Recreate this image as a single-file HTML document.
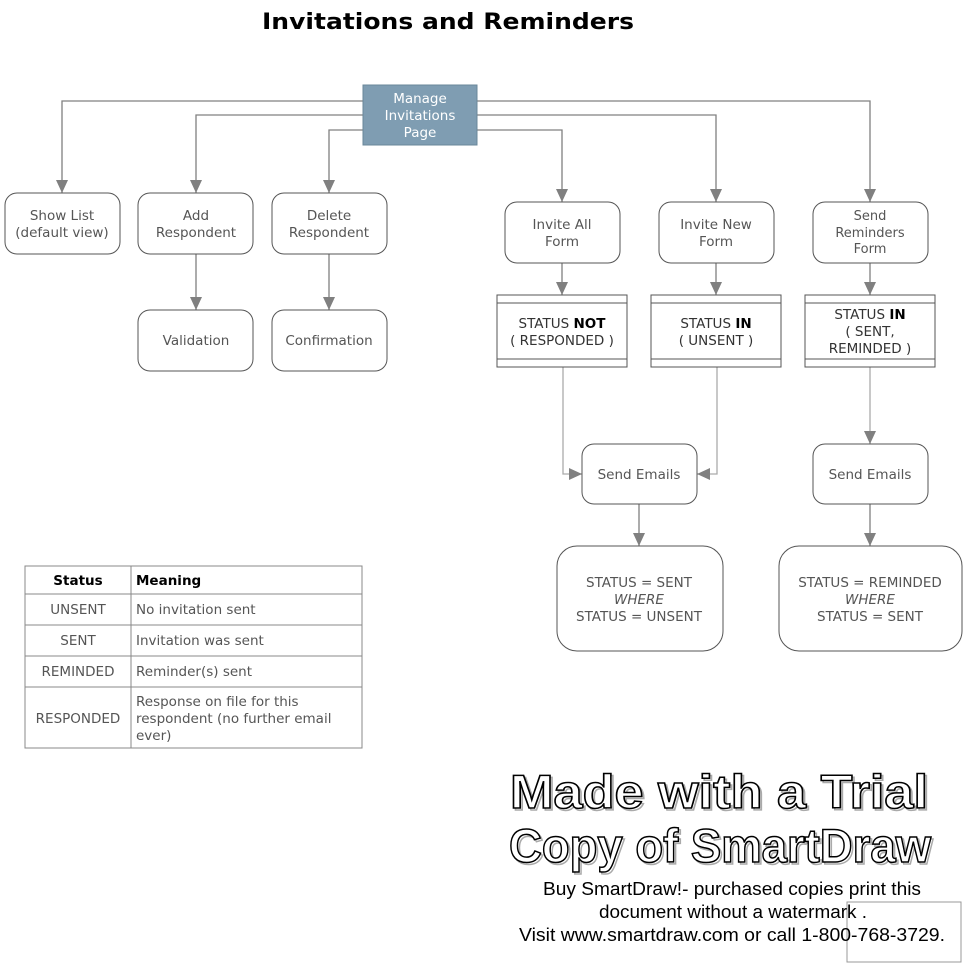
<!DOCTYPE html>
<html><head><meta charset="utf-8"><style>body{margin:0;background:#fff}svg{display:block}</style></head><body>
<svg width="967" height="967" viewBox="0 0 967 967" xmlns="http://www.w3.org/2000/svg" font-family="'DejaVu Sans', 'Liberation Sans', sans-serif">
<defs><marker id="a" markerWidth="12" markerHeight="14" refX="6" refY="13" orient="0" markerUnits="userSpaceOnUse"><path d="M0,0 L12,0 L6,13 Z" fill="#808080"/></marker>
<marker id="r" markerWidth="14" markerHeight="12" refX="13" refY="6" orient="0" markerUnits="userSpaceOnUse"><path d="M0,0 L13,6 L0,12 Z" fill="#808080"/></marker>
<marker id="l" markerWidth="14" markerHeight="12" refX="1" refY="6" orient="0" markerUnits="userSpaceOnUse"><path d="M14,0 L1,6 L14,12 Z" fill="#808080"/></marker></defs>
<text x="262" y="29" textLength="372" lengthAdjust="spacingAndGlyphs" font-size="22" font-weight="bold" font-family="'DejaVu Sans',sans-serif" fill="#000">Invitations and Reminders</text>
<g stroke="#808080" stroke-width="1.3" fill="none">
<path d="M363,101 H62 V193" marker-end="url(#a)"/>
<path d="M363,115 H196 V193" marker-end="url(#a)"/>
<path d="M363,130 H329 V193" marker-end="url(#a)"/>
<path d="M477,101 H870 V202" marker-end="url(#a)"/>
<path d="M477,115 H716 V202" marker-end="url(#a)"/>
<path d="M477,130 H562 V202" marker-end="url(#a)"/>
<path d="M196,254 V310" marker-end="url(#a)"/>
<path d="M329,254 V310" marker-end="url(#a)"/>
<path d="M562,263 V295" marker-end="url(#a)"/>
<path d="M716,263 V295" marker-end="url(#a)"/>
<path d="M870,263 V295" marker-end="url(#a)"/>
<path d="M563,367 V474 H582" stroke="#aaa" marker-end="url(#r)"/>
<path d="M717,367 V474 H697" stroke="#aaa" marker-end="url(#l)"/>
<path d="M870,367 V444" stroke="#aaa" marker-end="url(#a)"/>
<path d="M639,504 V546" marker-end="url(#a)"/>
<path d="M870,504 V546" marker-end="url(#a)"/>
</g>
<rect x="363" y="85" width="114" height="60" fill="#7f9db2" stroke="#6a8799"/>
<g fill="#fff" font-size="13.5" text-anchor="middle"><text x="420" y="103">Manage</text><text x="420" y="120">Invitations</text><text x="420" y="137">Page</text></g>
<g fill="#fff" stroke="#555" stroke-width="1">
<rect x="5" y="193" width="115" height="61" rx="12"/>
<rect x="138" y="193" width="115" height="61" rx="12"/>
<rect x="272" y="193" width="115" height="61" rx="12"/>
<rect x="138" y="310" width="115" height="61" rx="12"/>
<rect x="272" y="310" width="115" height="61" rx="12"/>
<rect x="505" y="202" width="115" height="61" rx="12"/>
<rect x="659" y="202" width="115" height="61" rx="12"/>
<rect x="813" y="202" width="115" height="61" rx="12"/>
<rect x="582" y="444" width="115" height="60" rx="12"/>
<rect x="813" y="444" width="115" height="60" rx="12"/>
<rect x="557" y="546" width="166" height="105" rx="20"/>
<rect x="779" y="546" width="183" height="105" rx="20"/>
<rect x="497" y="295" width="130" height="72"/>
<rect x="651" y="295" width="130" height="72"/>
<rect x="805" y="295" width="130" height="72"/>
</g>
<g stroke="#555" stroke-width="1"><path d="M497,303H627M497,359H627M651,303H781M651,359H781M805,303H935M805,359H935"/></g>
<g fill="#555" font-size="13.5" text-anchor="middle">
<text x="62" y="220">Show List</text><text x="62" y="237">(default view)</text>
<text x="196" y="220">Add</text><text x="196" y="237">Respondent</text>
<text x="329" y="220">Delete</text><text x="329" y="237">Respondent</text>
<text x="196" y="345">Validation</text><text x="329" y="345">Confirmation</text>
<text x="562" y="229">Invite All</text><text x="562" y="246">Form</text>
<text x="716" y="229">Invite New</text><text x="716" y="246">Form</text>
<text x="870" y="220" font-size="13">Send</text><text x="870" y="237" font-size="13">Reminders</text><text x="870" y="253" font-size="13">Form</text>
<text x="562" y="328" fill="#333">STATUS <tspan font-weight="bold" fill="#000">NOT</tspan></text><text x="562" y="345" fill="#333">( RESPONDED )</text>
<text x="716" y="328" fill="#333">STATUS <tspan font-weight="bold" fill="#000">IN</tspan></text><text x="716" y="345" fill="#333">( UNSENT )</text>
<text x="870" y="319" fill="#333">STATUS <tspan font-weight="bold" fill="#000">IN</tspan></text><text x="870" y="336" fill="#333">( SENT,</text><text x="870" y="353" fill="#333">REMINDED )</text>
<text x="639" y="479">Send Emails</text><text x="870" y="479">Send Emails</text>
<text x="639" y="587">STATUS = SENT</text><text x="639" y="604" font-style="italic">WHERE</text><text x="639" y="621">STATUS = UNSENT</text>
<text x="870" y="587">STATUS = REMINDED</text><text x="870" y="604" font-style="italic">WHERE</text><text x="870" y="621">STATUS = SENT</text>
</g>
<g fill="none" stroke="#888" stroke-width="1">
<rect x="25" y="566" width="337" height="182"/>
<path d="M131,566V748M25,594H362M25,625H362M25,656H362M25,687H362"/>
</g>
<g font-size="13.5" fill="#555">
<text x="78" y="585" text-anchor="middle" font-weight="bold" fill="#000">Status</text>
<text x="136" y="585" font-weight="bold" fill="#000">Meaning</text>
<g text-anchor="middle"><text x="78" y="614">UNSENT</text><text x="78" y="645">SENT</text><text x="78" y="676">REMINDED</text><text x="78" y="723">RESPONDED</text></g>
<text x="136" y="614">No invitation sent</text><text x="136" y="645">Invitation was sent</text><text x="136" y="676">Reminder(s) sent</text>
<text x="136" y="706">Response on file for this</text><text x="136" y="723">respondent (no further email</text><text x="136" y="740">ever)</text>
</g>
<g font-family="'Liberation Sans',sans-serif" font-weight="bold" font-size="47" fill="#fff" stroke="#000" stroke-width="1.5">
<text x="510" y="808" textLength="418" lengthAdjust="spacingAndGlyphs" stroke="#aaa" transform="translate(2,2)">Made with a Trial</text>
<text x="510" y="808" textLength="418" lengthAdjust="spacingAndGlyphs">Made with a Trial</text>
<text x="509" y="862" textLength="422" lengthAdjust="spacingAndGlyphs" stroke="#aaa" transform="translate(2,2)">Copy of SmartDraw</text>
<text x="509" y="862" textLength="422" lengthAdjust="spacingAndGlyphs">Copy of SmartDraw</text>
</g>
<rect x="847" y="902" width="114" height="60" fill="none" stroke="#999"/>
<g font-family="'Liberation Sans',sans-serif" font-size="18" fill="#000">
<text x="543" y="895" textLength="378" lengthAdjust="spacingAndGlyphs">Buy SmartDraw!- purchased copies print this</text>
<text x="599" y="918" textLength="268" lengthAdjust="spacingAndGlyphs">document without a watermark .</text>
<text x="519" y="941" textLength="426" lengthAdjust="spacingAndGlyphs">Visit www.smartdraw.com or call 1-800-768-3729.</text>
</g>
</svg>
</body></html>
